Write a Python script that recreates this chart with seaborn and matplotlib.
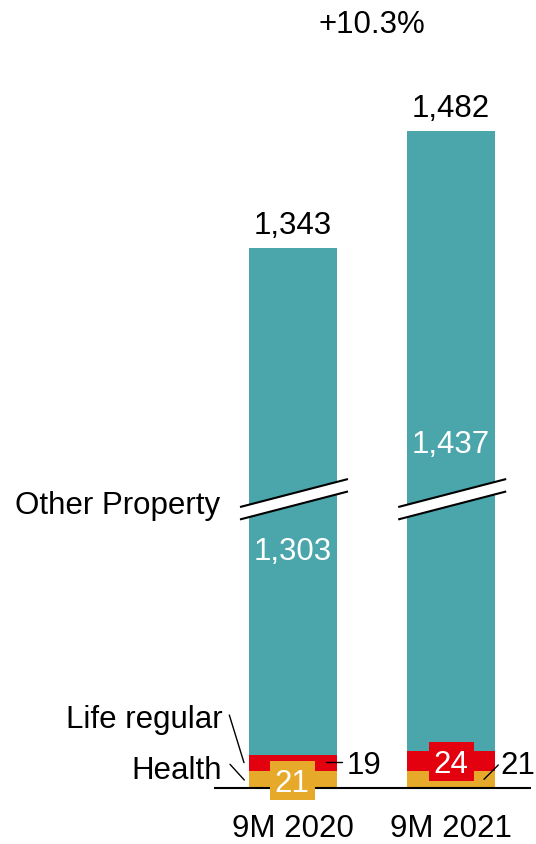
import matplotlib
matplotlib.use("Agg")
import matplotlib.pyplot as plt
from matplotlib.patches import Rectangle, Polygon
import numpy as np
import pandas as pd
import seaborn as sns

# ---------------- data ----------------
periods = ["9M 2020", "9M 2021"]
health = [21, 21]
life_regular = [19, 24]
other_property = [1303, 1437]
totals = [1343, 1482]
growth_label = "+10.3%"
series_names = ["Other Property", "Life regular", "Health"]

# ---------------- style ----------------
TEAL = "#4AA6AB"
RED = "#E3000F"
ORANGE = "#E6A92A"
FS = 22.5
BREAK = 699          # amount of the axis hidden by the break
BAR_W = 0.553

sns.set_style("white")
plt.rcParams["font.family"] = ["Liberation Sans", "DejaVu Sans"]

W, H = 536, 844
fig = plt.figure(figsize=(W / 100, H / 100), dpi=100)
ax = fig.add_axes([0, 0, 1, 1])

# pixel -> data helpers (for placing annotations)
def X(px):
    return (px - 293.0) / 158.2

def Y(py):
    return (788.3 - py) / 0.8396

h = np.array(health, float)
l = np.array(life_regular, float)
o = np.array(other_property, float) - BREAK
df = pd.DataFrame({
    "period": periods,
    "health": h,
    "health_life": h + l,
    "top": h + l + o,
})

# stacked bars drawn as overlapping cumulative layers
sns.barplot(data=df, x="period", y="top", color=TEAL, saturation=1,
            width=BAR_W, errorbar=None, linewidth=0, ax=ax, zorder=2)
sns.barplot(data=df, x="period", y="health_life", color=RED, saturation=1,
            width=BAR_W, errorbar=None, linewidth=0, ax=ax, zorder=2)
sns.barplot(data=df, x="period", y="health", color=ORANGE, saturation=1,
            width=BAR_W, errorbar=None, linewidth=0, ax=ax, zorder=2)

ax.set_xlim(X(0), X(W))
ax.set_ylim(Y(H), Y(0))
ax.axis("off")

# baseline
ax.plot([X(214), X(531)], [0, 0], color="black", lw=1.5, zorder=5,
        solid_capstyle="butt")

# break bands
band_y = Y(499.5)
half = 7.4
slope = 48.85
for i in range(len(periods)):
    x0, x1 = i + X(240) - X(293), i + X(348) - X(293)
    def yl(x, off):
        return band_y + off + slope * (x - i)
    poly = Polygon([(x0, yl(x0, half)), (x1, yl(x1, half)),
                    (x1, yl(x1, -half)), (x0, yl(x0, -half))],
                   closed=True, facecolor="white", edgecolor="none", zorder=4)
    ax.add_patch(poly)
    for off in (half, -half):
        ax.plot([x0, x1], [yl(x0, off), yl(x1, off)], color="black",
                lw=1.5, zorder=5, solid_capstyle="butt")

# totals
for i, t in enumerate(totals):
    ax.text(i, df["top"][i] + 16, f"{t:,}", ha="center", va="baseline",
            fontsize=FS, color="black", zorder=6)

# growth label
ax.text(X(371.5), Y(33), growth_label, ha="center", va="baseline",
        fontsize=FS, color="black")

# Other Property values inside bars
other_label_y = [Y(560), Y(453)]
for i, v in enumerate(other_property):
    ax.text(i, other_label_y[i], f"{v:,}", ha="center", va="baseline",
            fontsize=FS, color="white", zorder=6)

# boxed segment labels
box_w, box_h = 45 / 158.2, 39 / 0.8396
cap_off = 11.2 / 0.8396
# 2020 health in orange box
yc = h[0] / 2 - 1.2
ax.add_patch(Rectangle((0 - box_w / 2, yc - box_h / 2), box_w, box_h,
                       facecolor=ORANGE, edgecolor="none", zorder=5))
ax.text(X(291.5) - X(293), yc - cap_off, f"{health[0]}", ha="center",
        va="baseline", fontsize=FS, color="white", zorder=6)
# 2021 life regular in red box
yc = h[1] + l[1] / 2 - 1.2
ax.add_patch(Rectangle((1 - box_w / 2, yc - box_h / 2), box_w, box_h,
                       facecolor=RED, edgecolor="none", zorder=5))
ax.text(1 + X(450.5) - X(451.2), yc - cap_off, f"{life_regular[1]}",
        ha="center", va="baseline", fontsize=FS, color="white", zorder=6)

# outside labels with leaders
ax.plot([X(326), X(341.7)], [Y(762.3), Y(762.3)], color="black", lw=1, zorder=6)
ax.text(X(346.7), Y(774), f"{life_regular[0]}", ha="left", va="baseline",
        fontsize=FS, color="black")
ax.plot([X(484), X(498.3)], [Y(779.3), Y(765)], color="black", lw=1, zorder=6)
ax.text(X(500), Y(774), f"{health[1]}", ha="left", va="baseline",
        fontsize=FS, color="black")

# series names on the left
ax.text(X(220), Y(514), series_names[0], ha="right", va="baseline",
        fontsize=FS, color="black")
ax.text(X(223), Y(728), series_names[1], ha="right", va="baseline",
        fontsize=FS, color="black")
ax.plot([X(229.3), X(244)], [Y(715), Y(762.7)], color="black", lw=1)
ax.text(X(222), Y(779), series_names[2], ha="right", va="baseline",
        fontsize=FS, color="black")
ax.plot([X(230), X(244.3)], [Y(764.3), Y(780)], color="black", lw=1)

# category labels
for i, p in enumerate(periods):
    ax.text(i, Y(837), p, ha="center", va="baseline", fontsize=FS,
            color="black")

fig.savefig("out.png", dpi=100)
